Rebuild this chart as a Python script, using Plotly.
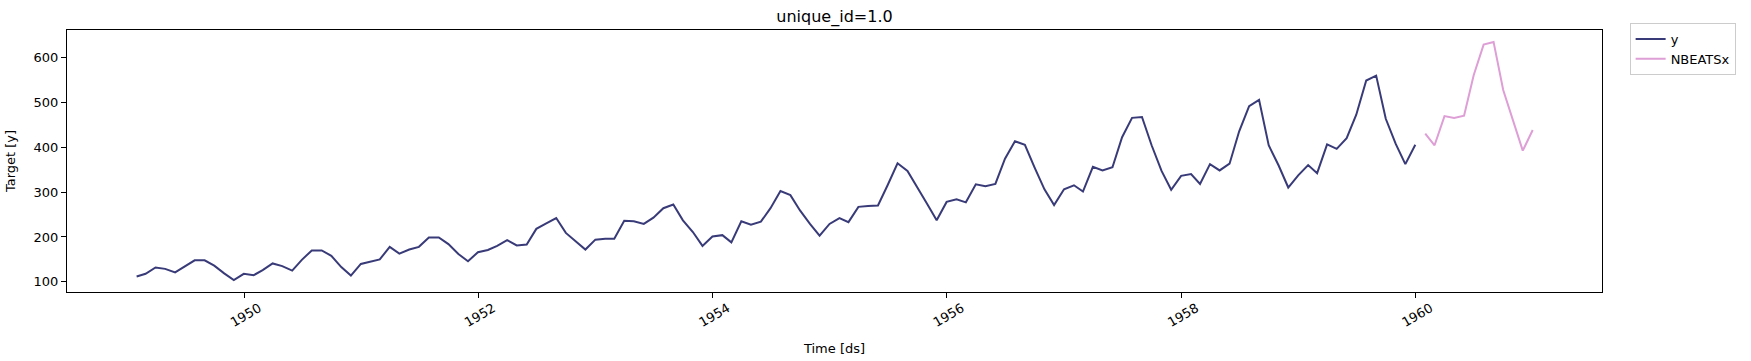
import pandas as pd
import plotly.graph_objects as go

# Historical series (monthly, month-end dates)
y_dates = pd.date_range("1949-01-31", periods=132, freq="ME")
y_values = [
    112, 118, 132, 129, 121, 135, 148, 148, 136, 119, 104, 118,
    115, 126, 141, 135, 125, 149, 170, 170, 158, 133, 114, 140,
    145, 150, 178, 163, 172, 178, 199, 199, 184, 162, 146, 166,
    171, 180, 193, 181, 183, 218, 230, 242, 209, 191, 172, 194,
    196, 196, 236, 235, 229, 243, 264, 272, 237, 211, 180, 201,
    204, 188, 235, 227, 234, 264, 302, 293, 259, 229, 203, 229,
    242, 233, 267, 269, 270, 315, 364, 347, 312, 274, 237, 278,
    284, 277, 317, 313, 318, 374, 413, 405, 355, 306, 271, 306,
    315, 301, 356, 348, 355, 422, 465, 467, 404, 347, 305, 336,
    340, 318, 362, 348, 363, 435, 491, 505, 404, 359, 310, 337,
    360, 342, 406, 396, 420, 472, 548, 559, 463, 407, 362, 405,
]

# Forecast
fc_dates = pd.date_range("1960-01-31", periods=12, freq="ME")
fc_values = [430, 404, 469, 465, 470, 560, 628, 634, 527, 460, 392, 438]

x_tickvals = ["1950-01-01", "1952-01-01", "1954-01-01", "1956-01-01", "1958-01-01", "1960-01-01"]
x_ticktext = ["1950", "1952", "1954", "1956", "1958", "1960"]
y_tickvals = [100, 200, 300, 400, 500, 600]

FONT = "DejaVu Sans"

fig = go.Figure()
fig.add_trace(go.Scatter(x=y_dates, y=y_values, mode="lines", name="y",
                         line=dict(color="#393b79", width=2)))
fig.add_trace(go.Scatter(x=fc_dates, y=fc_values, mode="lines", name="NBEATSx",
                         line=dict(color="#de9ed6", width=2)))

axis_common = dict(showline=True, linecolor="black", linewidth=1, mirror=True,
                   ticks="outside", ticklen=5, tickwidth=1, tickcolor="black",
                   showgrid=False, zeroline=False, automargin=False,
                   tickfont=dict(family=FONT, size=13, color="black"))

fig.update_layout(
    width=1751, height=361,
    margin=dict(l=67, r=149, t=30, b=69),
    plot_bgcolor="white", paper_bgcolor="white",
    font=dict(family=FONT, size=13, color="black"),
    title=dict(text="unique_id=1.0", x=0.5, xref="paper", xanchor="center",
               y=1 - 16 / 361, yref="container", yanchor="middle",
               font=dict(family=FONT, size=16, color="black")),
    xaxis=dict(range=["1948-06-28", "1961-08-04"], tickvals=x_tickvals, ticktext=x_ticktext,
               tickangle=-30, ticklabelshift=15, ticklabelstandoff=-2,
               title=dict(text="Time [ds]", font=dict(family=FONT, size=13)),
               **axis_common),
    yaxis=dict(range=[77.5, 660.5], tickvals=y_tickvals,
               title=dict(text="Target [y]", font=dict(family=FONT, size=13)),
               **axis_common),
    legend=dict(x=1.018, y=1.027, xanchor="left", yanchor="top",
                bordercolor="#cccccc", borderwidth=1, bgcolor="white",
                font=dict(family=FONT, size=13, color="black")),
    showlegend=True,
)

fig.write_html("out.html", config={"displayModeBar": False},
               post_script="document.body.style.margin='0';")
